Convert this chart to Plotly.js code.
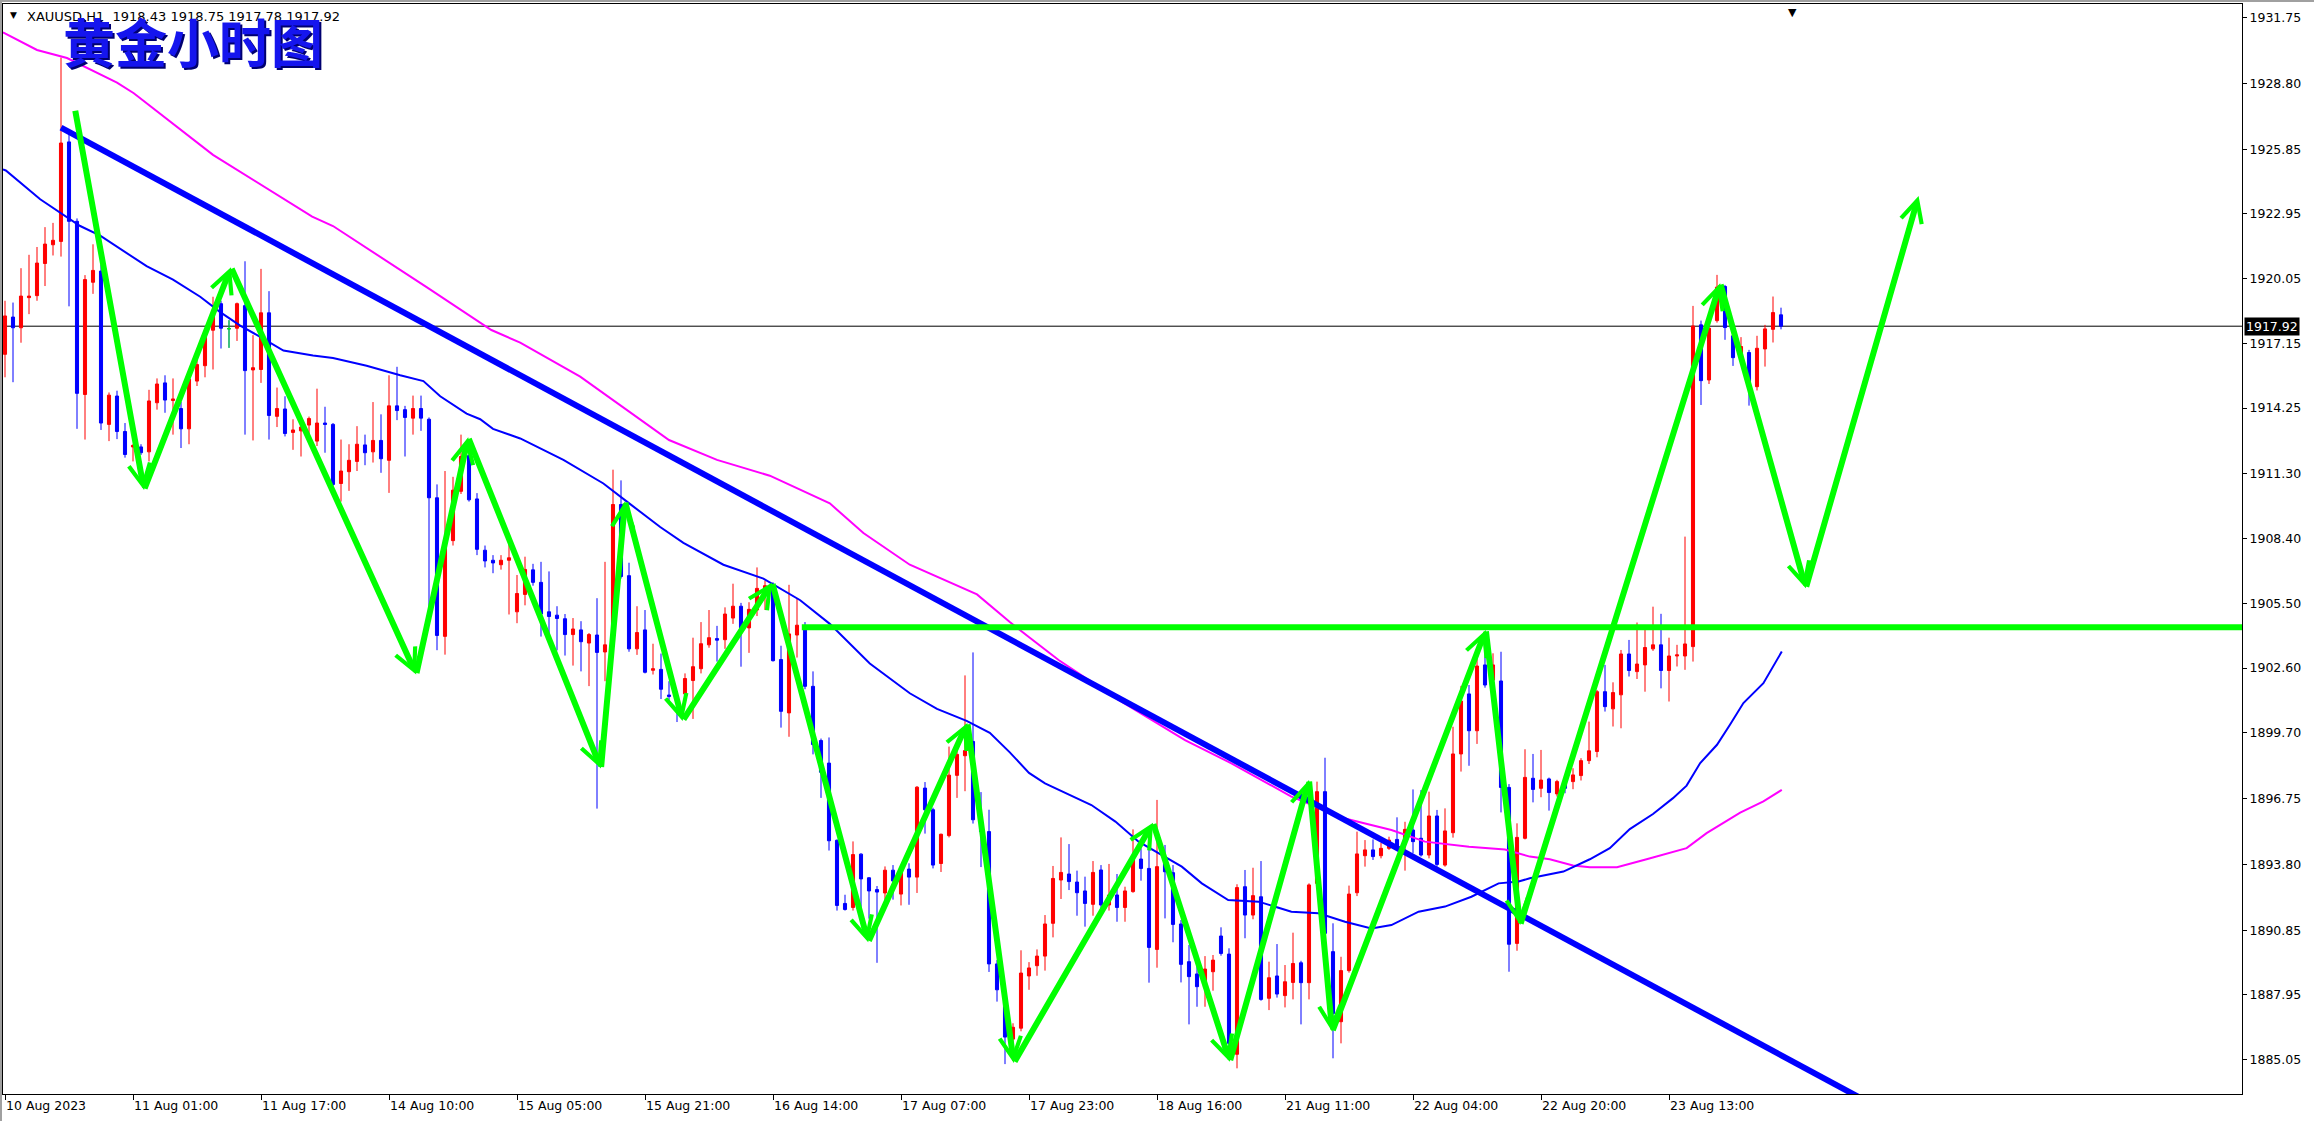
<!DOCTYPE html>
<html>
<head>
<meta charset="utf-8">
<script src="https://cdn.plot.ly/plotly-3.0.1.min.js"></script>
<style>html,body{margin:0;padding:0;background:#fff;}#chart{width:2314px;height:1121px;}</style>
</head>
<body>
<div id="chart"></div>
<script>
// ---------- DATA (XAUUSD H1, bar index 0 = 10 Aug 2023 09:00) ----------
const openP = [1916.66,1918.33,1917.85,1919.20,1919.29,1920.73,1921.57,1921.72,1926.18,1922.62,1914.86,1919.89,1920.39,1913.52,1914.79,1913.20,1912.51,1912.51,1912.29,1914.49,
1915.38,1914.59,1914.23,1913.32,1915.46,1916.15,1917.74,1918.93,1917.81,1917.83,1918.84,1915.96,1915.98,1918.52,1913.88,1914.21,1913.16,1913.23,1913.49,1912.77,
1913.58,1913.52,1910.87,1911.40,1911.86,1912.60,1912.29,1912.80,1911.91,1914.35,1914.18,1913.80,1914.23,1913.75,1910.23,1904.02,1908.31,1910.52,1912.12,1910.18,
1907.88,1907.43,1907.23,1907.43,1905.12,1905.90,1907.00,1906.44,1905.12,1904.97,1904.81,1904.10,1904.31,1903.72,1904.08,1903.32,1903.78,1909.93,1906.74,1903.46,
1904.31,1902.50,1902.54,1901.39,1901.33,1901.44,1902.04,1902.57,1903.64,1903.92,1903.87,1904.84,1905.37,1904.40,1905.20,1906.08,1906.29,1902.98,1900.59,1904.08,
1904.40,1901.78,1899.35,1898.34,1894.88,1892.05,1891.87,1894.26,1893.20,1892.67,1892.52,1893.54,1892.47,1893.59,1893.23,1897.22,1896.25,1893.84,1895.09,1897.79,
1898.67,1899.31,1895.80,1895.27,1889.34,1887.65,1885.97,1886.46,1888.80,1889.26,1889.69,1891.16,1893.10,1893.37,1893.01,1892.61,1892.01,1893.55,1891.98,1892.43,
1891.87,1892.58,1894.04,1893.62,1889.99,1893.85,1893.43,1891.13,1889.44,1888.89,1888.29,1888.99,1890.59,1889.78,1885.29,1892.80,1891.53,1892.35,1887.80,1888.80,
1887.92,1888.51,1889.39,1888.50,1892.95,1897.06,1889.89,1886.75,1889.04,1892.53,1894.19,1894.45,1894.19,1894.52,1894.92,1894.89,1895.34,1894.97,1894.22,1895.97,
1893.77,1895.22,1898.75,1901.44,1899.79,1902.74,1902.06,1902.02,1897.25,1890.26,1894.97,1897.66,1897.21,1897.63,1896.96,1897.41,1897.51,1897.78,1898.45,1898.86,
1901.54,1900.77,1901.40,1903.23,1902.44,1902.74,1903.46,1903.64,1902.49,1903.14,1903.14,1903.56,1917.98,1915.51,1918.17,1919.70,1917.49,1916.56,1916.74,1915.21,
1916.90,1917.78,1918.43];
const highP = [1919.06,1918.98,1920.52,1921.12,1921.47,1922.36,1922.55,1929.96,1926.56,1922.75,1920.21,1921.59,1920.69,1914.95,1915.03,1913.58,1912.63,1912.63,1915.07,1915.58,
1915.72,1915.58,1914.52,1915.72,1916.58,1917.69,1919.24,1919.06,1918.19,1918.98,1920.83,1917.52,1920.49,1919.49,1915.17,1914.78,1913.75,1913.83,1913.87,1915.12,
1914.31,1913.58,1912.84,1912.63,1913.44,1913.06,1914.52,1913.97,1915.72,1916.10,1914.35,1914.81,1914.81,1913.83,1910.83,1911.43,1911.17,1913.06,1912.46,1910.44,
1908.09,1907.66,1907.66,1908.34,1906.77,1907.59,1907.27,1907.36,1906.93,1905.37,1905.02,1904.84,1904.70,1904.17,1905.73,1907.36,1911.49,1911.01,1907.32,1905.37,
1905.20,1903.69,1903.25,1902.01,1901.56,1902.36,1903.96,1904.66,1905.20,1904.49,1905.32,1906.38,1905.52,1905.55,1907.11,1906.52,1906.44,1903.60,1906.33,1905.73,
1904.66,1902.45,1899.44,1899.49,1894.92,1892.44,1894.83,1894.30,1893.23,1892.83,1893.71,1893.77,1893.68,1893.85,1897.31,1897.49,1896.34,1895.18,1899.08,1899.03,
1902.27,1903.30,1897.04,1896.25,1889.51,1887.74,1886.68,1889.95,1889.42,1889.99,1891.53,1893.73,1895.01,1894.71,1893.52,1893.25,1893.95,1893.77,1893.82,1893.37,
1892.80,1895.37,1894.52,1894.52,1896.69,1894.67,1893.77,1891.31,1890.19,1889.36,1889.69,1889.74,1890.98,1890.04,1892.91,1893.55,1893.65,1893.95,1889.44,1890.23,
1889.29,1890.74,1889.48,1892.95,1897.51,1898.58,1891.16,1889.66,1892.85,1895.27,1894.89,1894.92,1894.77,1895.04,1895.91,1895.71,1897.16,1897.13,1897.06,1896.24,
1896.31,1899.97,1901.80,1901.84,1903.18,1903.26,1903.26,1903.33,1897.40,1895.64,1898.96,1898.75,1898.93,1897.69,1897.59,1897.51,1898.11,1898.56,1900.20,1901.62,
1902.74,1901.96,1903.41,1903.86,1904.64,1904.31,1905.35,1905.03,1903.96,1903.64,1908.49,1918.83,1918.17,1917.98,1920.22,1919.77,1917.53,1917.43,1916.86,1917.49,
1917.98,1919.25,1918.75];
const lowP = [1915.63,1915.41,1917.18,1918.46,1919.06,1919.72,1921.09,1921.04,1918.81,1913.32,1912.84,1919.37,1913.27,1912.77,1912.86,1912.03,1911.86,1912.15,1911.86,1914.18,
1914.04,1913.06,1912.46,1912.63,1915.24,1915.63,1915.98,1916.92,1916.95,1917.26,1913.06,1912.80,1915.38,1912.84,1913.40,1912.98,1912.38,1912.08,1912.80,1912.55,
1912.25,1910.75,1910.06,1910.54,1911.43,1911.69,1911.81,1911.35,1910.45,1913.71,1912.08,1913.06,1913.23,1905.26,1903.40,1903.20,1908.09,1910.40,1910.06,1907.66,
1907.11,1906.85,1907.01,1905.00,1904.61,1905.41,1906.29,1904.01,1904.13,1903.39,1903.16,1902.71,1902.45,1901.79,1896.30,1902.01,1903.60,1906.61,1903.33,1903.19,
1902.36,1902.31,1901.21,1901.12,1900.18,1901.12,1900.32,1902.36,1903.51,1902.89,1903.46,1904.58,1902.66,1903.28,1904.93,1905.20,1902.89,1899.93,1899.52,1903.07,
1901.65,1898.73,1896.78,1894.42,1891.73,1891.73,1891.73,1891.73,1891.37,1889.39,1892.08,1892.22,1891.96,1891.99,1892.52,1895.18,1893.62,1893.46,1895.01,1896.78,
1897.08,1895.63,1893.68,1888.98,1887.65,1884.85,1884.99,1886.32,1888.18,1888.81,1889.04,1890.53,1892.25,1892.65,1891.50,1891.01,1891.50,1891.76,1891.73,1891.23,
1891.23,1892.53,1893.07,1888.50,1889.17,1891.38,1890.31,1888.51,1886.63,1887.42,1887.42,1888.14,1889.71,1885.03,1884.66,1890.49,1891.34,1887.69,1887.27,1887.83,
1887.39,1887.75,1886.63,1887.75,1892.80,1890.56,1885.11,1885.78,1888.95,1892.38,1893.70,1894.00,1894.07,1894.45,1894.42,1893.52,1894.30,1894.15,1894.07,1893.70,
1893.70,1895.00,1897.96,1898.22,1899.20,1901.72,1901.92,1896.13,1888.99,1889.93,1894.92,1896.58,1896.81,1896.21,1896.84,1896.99,1897.17,1897.56,1898.30,1898.60,
1900.65,1899.98,1899.90,1902.22,1902.11,1901.54,1903.37,1901.69,1901.10,1902.67,1902.52,1902.89,1914.39,1915.33,1918.08,1917.31,1916.14,1916.41,1914.36,1915.04,
1916.11,1917.19,1917.78];
const closeP = [1918.38,1917.85,1919.27,1919.27,1920.75,1921.60,1921.77,1926.13,1922.62,1914.91,1920.01,1920.42,1913.58,1914.83,1913.20,1912.17,1912.58,1912.25,1914.57,1915.33,
1914.61,1914.66,1913.32,1915.55,1916.20,1917.43,1918.64,1917.83,1917.81,1918.93,1915.93,1916.06,1918.52,1913.92,1914.23,1913.11,1913.27,1913.40,1913.78,1913.58,
1913.52,1910.83,1911.43,1911.91,1912.63,1912.25,1912.80,1911.98,1914.35,1914.14,1913.83,1914.23,1913.80,1910.23,1904.06,1908.34,1910.57,1912.08,1910.14,1907.92,
1907.40,1907.31,1907.43,1907.54,1905.94,1907.02,1906.44,1905.02,1904.91,1904.82,1904.10,1904.35,1903.78,1904.10,1903.30,1903.64,1909.93,1906.70,1903.46,1904.19,
1902.41,1902.57,1901.65,1901.33,1901.12,1902.13,1902.66,1903.69,1903.96,1903.85,1905.02,1905.37,1904.40,1905.23,1906.17,1906.29,1902.93,1900.66,1904.13,1904.52,
1901.78,1899.17,1897.93,1894.86,1891.96,1891.78,1894.24,1893.15,1892.61,1892.56,1893.54,1893.06,1893.50,1893.23,1897.26,1896.25,1893.77,1895.15,1897.80,1898.73,
1898.90,1895.80,1895.27,1889.34,1888.18,1886.06,1886.50,1888.93,1889.16,1889.69,1891.13,1893.17,1893.44,1893.03,1892.53,1892.05,1893.44,1891.98,1892.43,1891.87,
1892.61,1894.15,1893.62,1890.08,1893.70,1893.47,1891.11,1889.32,1888.77,1888.32,1889.11,1889.51,1889.81,1885.78,1892.76,1891.53,1892.40,1887.75,1888.72,1887.99,
1888.54,1889.36,1888.50,1892.88,1897.06,1890.71,1887.12,1889.04,1892.47,1894.27,1894.45,1894.15,1894.52,1894.89,1894.52,1895.37,1894.82,1894.22,1895.97,1893.80,
1895.30,1898.75,1901.12,1899.79,1902.69,1901.84,1902.74,1897.25,1890.22,1895.01,1897.70,1897.16,1897.58,1897.02,1897.51,1897.21,1897.81,1898.45,1898.89,1901.54,
1900.87,1901.50,1903.23,1902.49,1902.78,1903.52,1903.64,1902.49,1903.14,1903.19,1903.68,1917.93,1915.48,1917.83,1919.67,1917.86,1916.51,1917.01,1915.44,1916.93,
1917.80,1918.53,1917.92];

// time axis labels (every 16 hourly bars)
const xTickIdx  = [0,16,32,48,64,80,96,112,128,144,160,176,192,208];
const xTickText = ["10 Aug 2023","11 Aug 01:00","11 Aug 17:00","14 Aug 10:00","15 Aug 05:00","15 Aug 21:00","16 Aug 14:00",
                   "17 Aug 07:00","17 Aug 23:00","18 Aug 16:00","21 Aug 11:00","22 Aug 04:00","22 Aug 20:00","23 Aug 13:00"];
// price axis labels
const yTickVals = [1931.75,1928.80,1925.85,1922.95,1920.05,1917.15,1914.25,1911.30,1908.40,1905.50,1902.60,1899.70,1896.75,1893.80,1890.85,1887.95,1885.05];

// moving averages
const maBlueX = [-0.25,0.1,4.4,9.4,11.9,15.2,17.7,21,24.4,26.9,29.4,31.9,34.8,38.5,41,45.2,49.4,52.3,54.4,57.7,59.4,61,64.4,69.8,74.8,77.7,81.9,84.8,89.8,94.8,99.4,103.1,108.1,113.1,116.5,120.2,123.1,125.6,128,130,135.8,138.8,141.7,147.1,149.6,152.9,156.7,160.8,164.2,167.5,170.8,173.3,176.7,180,183.3,186.7,189.2,190.6,194.8,198.1,200.6,203.1,206,208.5,210.2,211.9,214,215.6,217.3,219.8,222.1];
const maBlueY = [1924.95,1924.90,1923.61,1922.41,1921.98,1921.21,1920.61,1920.01,1919.24,1918.55,1917.95,1917.44,1916.83,1916.61,1916.49,1916.15,1915.72,1915.46,1914.78,1914.00,1913.75,1913.32,1912.89,1911.93,1910.87,1910.07,1908.92,1908.21,1907.23,1906.61,1905.64,1904.58,1902.80,1901.47,1900.77,1900.23,1899.70,1898.82,1897.90,1897.43,1896.46,1895.72,1894.82,1893.70,1892.95,1892.20,1892.13,1891.68,1891.61,1891.23,1890.93,1891.08,1891.68,1891.91,1892.35,1892.95,1893.03,1893.18,1893.48,1894.03,1894.53,1895.38,1896.06,1896.77,1897.33,1898.34,1899.16,1900.05,1901.03,1901.92,1903.34];
const maPinkX = [-0.25,4,7.75,14,16.1,26,38.4,41,52.7,60.8,64.4,71.9,83,89,95.6,103.1,107.3,113.1,121.5,125.6,128.1,131.7,139.2,147.5,153.3,160.8,167.5,173.3,177.5,183,187.5,190.6,193.1,196,198.1,201.5,205.2,210.2,212.7,216.9,219.8,222.1];
const maPinkY = [1931.09,1930.30,1929.94,1928.84,1928.36,1925.60,1922.83,1922.41,1919.67,1917.75,1917.18,1915.66,1912.82,1911.93,1911.22,1909.98,1908.65,1907.23,1905.90,1904.66,1903.96,1902.96,1901.17,1899.37,1898.33,1896.84,1895.86,1895.34,1894.82,1894.59,1894.47,1894.15,1894.03,1893.75,1893.67,1893.67,1894.03,1894.53,1895.20,1896.12,1896.62,1897.14];

// drawn objects
const zigX = [8.75,17.38,28.25,51.4,57.9,74.5,77.5,84.7,95.9,107.9,120.3,126.1,143.5,153.1,163,165.9,185.1,189.4,214.4,225.1,239.2];
const zigY = [1927.64,1910.58,1920.56,1902.31,1912.94,1898.10,1910.07,1900.23,1906.43,1890.31,1900.14,1884.90,1895.67,1884.96,1897.58,1886.30,1904.31,1891.08,1919.85,1906.18,1923.75];
const trendX = [7.0, 232.4];
const trendY = [1926.82, 1883.24];
const levelStartX = 99.6;
const levelY = 1904.43;
const xRange = [-0.25, 279.625];
const yRange = [1883.51, 1932.36];
const symbolText = "XAUUSD,H1";
const titleText = "黄金小时图";

// ---------- BUILD ----------
const n = openP.length;
const idx = openP.map((_, k) => k);
const last = n - 1;
const dojiIdx = idx.filter(k => openP[k] === closeP[k]);

const traces = [
  {
    type: 'candlestick', x: idx, open: openP, high: highP, low: lowP, close: closeP,
    increasing: {line: {color: '#ff0000', width: 1}, fillcolor: '#ff0000'},
    decreasing: {line: {color: '#0000ff', width: 1}, fillcolor: '#0000ff'},
    whiskerwidth: 0, hoverinfo: 'skip', showlegend: false
  },
  {
    type: 'candlestick', x: dojiIdx, open: dojiIdx.map(k => openP[k]), high: dojiIdx.map(k => highP[k]),
    low: dojiIdx.map(k => lowP[k]), close: dojiIdx.map(k => closeP[k]),
    increasing: {line: {color: '#00ff00', width: 1}, fillcolor: '#00ff00'},
    decreasing: {line: {color: '#00ff00', width: 1}, fillcolor: '#00ff00'},
    whiskerwidth: 0, hoverinfo: 'skip', showlegend: false
  },
  {type: 'scatter', mode: 'lines', x: maPinkX, y: maPinkY, line: {color: '#ff00ff', width: 2}, hoverinfo: 'skip', showlegend: false},
  {type: 'scatter', mode: 'lines', x: maBlueX, y: maBlueY, line: {color: '#0000ff', width: 2}, hoverinfo: 'skip', showlegend: false}
];

const axisFont = {family: 'DejaVu Sans, Verdana, sans-serif', size: 12.5, color: '#000'};
const plotW = 2314 - 3 - 72, plotH = 1121 - 4 - 27;

const shapes = [
  // bid line
  {type: 'line', xref: 'paper', yref: 'y', x0: 0, x1: 1, y0: closeP[last], y1: closeP[last], line: {color: '#000', width: 1}, layer: 'below'},
  // descending trend line
  {type: 'line', xref: 'x', yref: 'y', x0: trendX[0], y0: trendY[0], x1: trendX[1], y1: trendY[1], line: {color: '#0000ff', width: 6}},
  // horizontal level
  {type: 'line', xref: 'x', yref: 'y', x0: levelStartX, x1: xRange[1], y0: levelY, y1: levelY, line: {color: '#00ff00', width: 6}},
  // window frame strips
  {type: 'rect', xref: 'paper', yref: 'paper', x0: -3/plotW, x1: 1 + 72/plotW, y0: 1 + 4/plotH, y1: 1 + 2/plotH, fillcolor: '#a0a0a0', line: {width: 0}},
  {type: 'rect', xref: 'paper', yref: 'paper', x0: -3/plotW, x1: -1/plotW, y0: -27/plotH, y1: 1 + 4/plotH, fillcolor: '#a0a0a0', line: {width: 0}}
];

const annotations = [];
for (let k = 1; k < zigX.length; k++) {
  annotations.push({
    x: zigX[k], y: zigY[k], ax: zigX[k-1], ay: zigY[k-1], xref: 'x', yref: 'y', axref: 'x', ayref: 'y',
    text: '', showarrow: true, arrowhead: 5, arrowsize: 0.7, arrowwidth: 6, arrowcolor: '#00ff00', standoff: 0
  });
}
// header
annotations.push({xref: 'paper', yref: 'paper', x: 10.5/plotW, y: 1 - 11/plotH, xanchor: 'center', yanchor: 'middle', text: '▼', showarrow: false, font: {family: 'DejaVu Sans', size: 9, color: '#000'}});
annotations.push({xref: 'paper', yref: 'paper', x: 22/plotW, y: 1 - 12/plotH, xanchor: 'left', yanchor: 'middle', showarrow: false,
  text: symbolText + '  ' + [openP[last], highP[last], lowP[last], closeP[last]].map(v => v.toFixed(2)).join(' '),
  font: {family: 'DejaVu Sans, Verdana, sans-serif', size: 13, color: '#000'}});
// big title with shadow
annotations.push({xref: 'paper', yref: 'paper', x: 190/plotW, y: 1 - 36/plotH, xanchor: 'center', yanchor: 'middle', xshift: 2, yshift: -2, showarrow: false,
  text: '<b>' + titleText + '</b>', font: {family: 'Noto Sans CJK SC', size: 52, color: '#000070'}});
annotations.push({xref: 'paper', yref: 'paper', x: 190/plotW, y: 1 - 36/plotH, xanchor: 'center', yanchor: 'middle', showarrow: false,
  text: '<b>' + titleText + '</b>', font: {family: 'Noto Sans CJK SC', size: 52, color: '#1515ee'}});
// shift marker at top
annotations.push({xref: 'paper', yref: 'paper', x: (1792-3)/plotW, y: 1, xanchor: 'center', yanchor: 'top', text: '▼', showarrow: false, font: {family: 'DejaVu Sans', size: 11, color: '#000'}});
// last price label
annotations.push({xref: 'paper', yref: 'y', x: 1, y: closeP[last], xanchor: 'left', yanchor: 'middle', xshift: 2, showarrow: false,
  text: closeP[last].toFixed(2), bgcolor: '#000', borderpad: 1, font: {family: 'DejaVu Sans, Verdana, sans-serif', size: 12.5, color: '#fff'}});

const layout = {
  width: 2314, height: 1121,
  margin: {l: 3, r: 72, t: 4, b: 27, pad: 0},
  paper_bgcolor: '#fff', plot_bgcolor: '#fff',
  showlegend: false, hovermode: false,
  boxgap: 0.45,
  xaxis: {
    range: xRange, autorange: false, rangeslider: {visible: false},
    tickmode: 'array', tickvals: xTickIdx, ticktext: xTickText,
    ticks: 'outside', ticklen: 5, tickcolor: '#000', tickwidth: 1,
    ticklabelposition: 'outside right',
    showline: true, linecolor: '#000', linewidth: 1, mirror: true,
    showgrid: false, zeroline: false, tickfont: axisFont, automargin: false, fixedrange: true
  },
  yaxis: {
    range: yRange, autorange: false, side: 'right',
    tickmode: 'array', tickvals: yTickVals, ticktext: yTickVals.map(v => v.toFixed(2)),
    ticks: 'outside', ticklen: 4, tickcolor: '#000', tickwidth: 1,
    showline: true, linecolor: '#000', linewidth: 1, mirror: true,
    showgrid: false, zeroline: false, tickfont: axisFont, automargin: false, fixedrange: true
  },
  shapes: shapes,
  annotations: annotations
};

Plotly.newPlot('chart', traces, layout, {staticPlot: true, displayModeBar: false});
</script>
</body>
</html>
